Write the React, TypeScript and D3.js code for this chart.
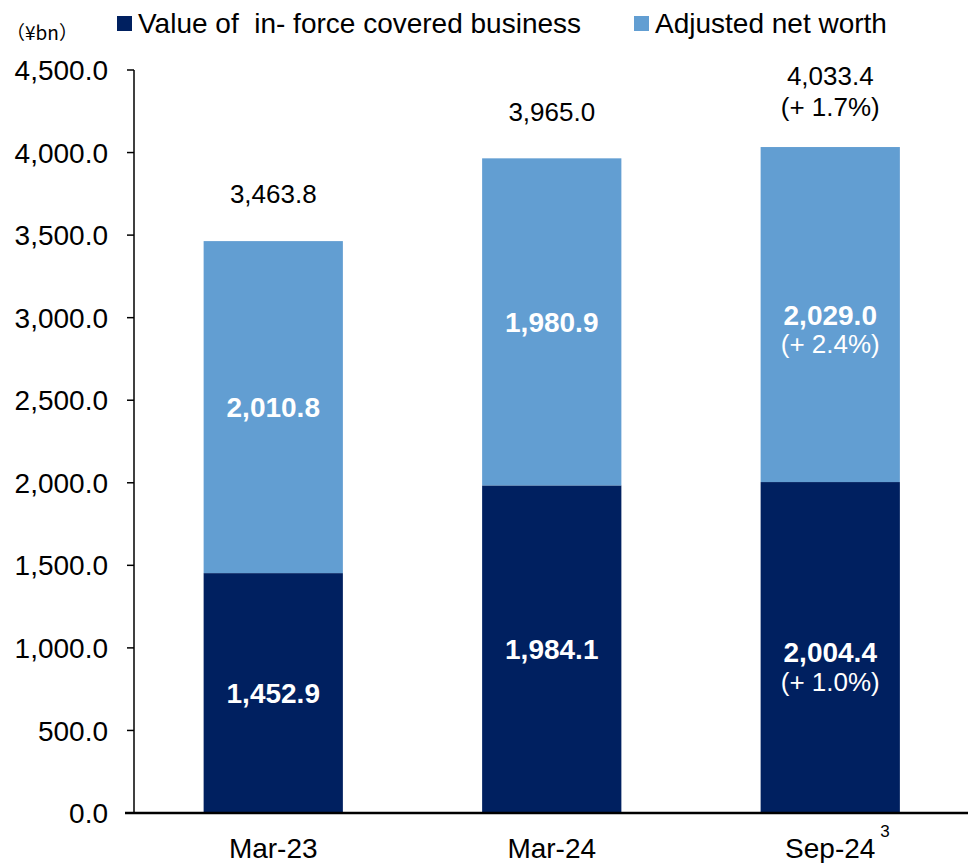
import * as React from "react";
import * as d3 from "d3";
import { useEffect, useRef } from "react";

const categories = ["Mar-23", "Mar-24", "Sep-24"];
const inForceValues = [1452.9, 1984.1, 2004.4];
const netWorthValues = [2010.8, 1980.9, 2029.0];
const totalLabels = ["3,463.8", "3,965.0", "4,033.4"];
const totalChange = ["", "", "(+ 1.7%)"];
const inForceChange = ["", "", "(+ 1.0%)"];
const netWorthChange = ["", "", "(+ 2.4%)"];
const yTicks = [0, 500, 1000, 1500, 2000, 2500, 3000, 3500, 4000, 4500];
const seriesNames = ["Value of  in- force covered business", "Adjusted net worth"];

const DARK = "#002060";
const LIGHT = "#629ED2";
const FONT = "'Liberation Sans', Arial, sans-serif";

const App: React.FunctionComponent = () => {
  const svgRef = useRef<SVGSVGElement>(null);

  useEffect(() => {
    const w = 968;
    const h = 863;
    const left = 134;
    const top = 70;
    const bottom = 813;

    const svg = d3.select(svgRef.current).attr("width", w).attr("height", h);
    svg.selectAll("*").remove();

    const x = d3.scaleBand().domain(categories).range([left, left + 835.5]).paddingInner(0.5).paddingOuter(0.25);
    const y = d3.scaleLinear().domain([0, 4500]).range([bottom, top]);

    const fmt = d3.format(",.1f");

    // y axis
    const yAxis = svg.append("g");
    yAxis.append("line").attr("x1", left).attr("x2", left).attr("y1", top).attr("y2", bottom).attr("stroke", "#000").attr("stroke-width", 1.5);
    yTicks.forEach((t) => {
      yAxis.append("line").attr("x1", left - 7).attr("x2", left).attr("y1", y(t)).attr("y2", y(t)).attr("stroke", "#000").attr("stroke-width", 1.5);
      yAxis.append("text").attr("x", left - 26).attr("y", y(t)).attr("dy", "0.36em").attr("text-anchor", "end")
        .attr("font-family", FONT).attr("font-size", 28).attr("fill", "#000").text(fmt(t));
    });

    // bars
    categories.forEach((c, i) => {
      const bx = x(c)!;
      const bw = x.bandwidth();
      const base = inForceValues[i];
      const top2 = base + netWorthValues[i];
      svg.append("rect").attr("x", bx).attr("y", y(base)).attr("width", bw).attr("height", y(0) - y(base)).attr("fill", DARK);
      svg.append("rect").attr("x", bx).attr("y", y(top2)).attr("width", bw).attr("height", y(base) - y(top2)).attr("fill", LIGHT);

      const cx = bx + bw / 2;
      const lbl = (yy: number, txt: string, bold: boolean, size: number, color: string) =>
        svg.append("text").attr("x", cx).attr("y", yy).attr("dy", "0.36em").attr("text-anchor", "middle")
          .attr("font-family", FONT).attr("font-size", size).attr("font-weight", bold ? "bold" : "normal").attr("fill", color).text(txt);

      const midIn = y(base / 2);
      const midNet = y(base + netWorthValues[i] / 2);
      if (inForceChange[i]) {
        lbl(midIn + 4, fmt(inForceValues[i]), true, 28, "#fff");
        lbl(midIn + 34, inForceChange[i], false, 26, "#fff");
      } else {
        lbl(midIn, fmt(inForceValues[i]), true, 28, "#fff");
      }
      lbl(midNet, fmt(netWorthValues[i]), true, 28, "#fff");
      if (netWorthChange[i]) lbl(midNet + 29, netWorthChange[i], false, 26, "#fff");

      if (totalChange[i]) {
        lbl(y(top2) - 71, totalLabels[i], false, 26, "#000");
        lbl(y(top2) - 40, totalChange[i], false, 26, "#000");
      } else {
        lbl(y(top2) - 47, totalLabels[i], false, 26, "#000");
      }

      svg.append("text").attr("x", cx).attr("y", 848).attr("dy", "0.36em").attr("text-anchor", "middle")
        .attr("font-family", FONT).attr("font-size", 28).attr("fill", "#000").text(c);
    });

    // footnote marker
    svg.append("text").attr("x", x("Sep-24")! + x.bandwidth() / 2 + 50).attr("y", 837).attr("font-family", FONT)
      .attr("font-size", 17).attr("fill", "#000").text("3");

    // x axis baseline
    svg.append("line").attr("x1", 125).attr("x2", w).attr("y1", bottom).attr("y2", bottom).attr("stroke", "#000").attr("stroke-width", 2.5);

    // unit
    svg.append("text").attr("x", 6).attr("y", 33).attr("dy", "0.36em").attr("font-family", "'Noto Sans CJK JP', " + FONT)
      .attr("font-size", 19).attr("fill", "#000").text("（¥bn）");

    // legend
    const legendX = [117, 634];
    seriesNames.forEach((s, i) => {
      svg.append("rect").attr("x", legendX[i]).attr("y", 16).attr("width", 15).attr("height", 15).attr("fill", i === 0 ? DARK : LIGHT);
      svg.append("text").attr("x", legendX[i] + 21).attr("y", 23).attr("dy", "0.36em").attr("font-family", FONT)
        .attr("font-size", 28).attr("fill", "#000").style("white-space", "pre").text(s);
    });
  }, []);

  return <svg ref={svgRef} style={{ position: "absolute", left: 0, top: 0 }}></svg>;
};

export default App;
